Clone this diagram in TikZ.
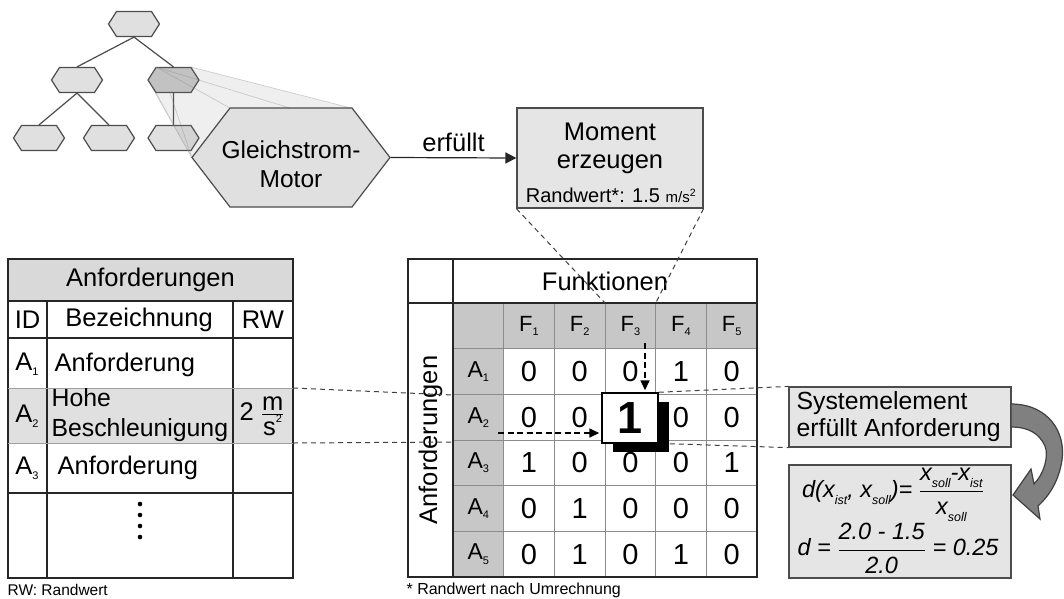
\documentclass[tikz,border=0pt]{standalone}
\usepackage{fontspec}
\setmainfont{Liberation Sans}
\usetikzlibrary{arrows.meta,shadows,calc}

\definecolor{hexfill}{gray}{0.88}
\definecolor{hexsel}{gray}{0.8}
\definecolor{hexline}{gray}{0.3}
\definecolor{boxfill}{gray}{0.9}
\definecolor{cellfill}{gray}{0.78}
\definecolor{titlefill}{gray}{0.85}
\definecolor{rowfill}{gray}{0.88}
\definecolor{rule}{gray}{0.15}
\definecolor{gridline}{gray}{0.55}
\definecolor{bendfill}{gray}{0.5}

\newcommand\fsz[2]{\fontsize{#1}{#2}\selectfont}
\newcommand\idx[1]{\raisebox{-0.18em}{\fsz{11}{11}#1}}
\newcommand\fidx[1]{\raisebox{-0.3em}{\fsz{12.5}{12.5}\itshape #1}}
\newcommand\sqr{\raisebox{0.5em}{\fsz{11}{11}2}}

\begin{document}
\begin{tikzpicture}[x=1pt,y=-1pt, font=\fsz{25.5}{30}, line width=1.2pt,
  hexp/.style n args={5}{insert path={(#1-#3,#2) -- (#1-#3+#5,#2-#4) -- (#1+#3-#5,#2-#4) -- (#1+#3,#2) -- (#1+#3-#5,#2+#4) -- (#1-#3+#5,#2+#4) -- cycle}},
  hexshape/.style={draw=hexline, fill=hexfill},
  slot/.style={inner sep=0pt, minimum width=51, minimum height=25},
  treeedge/.style={draw=hexline},
  box/.style={draw=hexline, fill=boxfill, inner sep=0pt},
  fanline/.style={draw=gray, line width=0.7pt, opacity=0.35},
  frame/.style={draw=rule, line width=1.4pt},
  grid/.style={draw=gridline, line width=0.9pt},
  num/.style={inner sep=0pt, font=\fsz{29}{29}},
  txt/.style={inner sep=0pt},
  dashline/.style={draw=black!75, line width=1pt, dash pattern=on 5pt off 4pt},
  dasharrow/.style={line width=1.6pt, dash pattern=on 6pt off 3.5pt, -{Triangle[length=10pt,width=9pt]}, shorten >=2pt},
]
\useasboundingbox (0,0) rectangle (1064,598);

% ---------- tree of system elements ----------
\node[slot] (t0) at (134,24) {};
\node[slot] (m1) at (77,80) {};
\node[slot] (m2) at (173.5,80) {};
\node[slot] (b1) at (39,138) {};
\node[slot] (b2) at (109,138) {};
\node[slot] (b3) at (173.5,138) {};
\draw[treeedge] (t0.south) -- (m1.north) (t0.south) -- (m2.north)
                (m1.south) -- (b1.north) (m1.south) -- (b2.north)
                (m2.south) -- (b3.north);
\path[hexshape, hexp={134}{24}{25.5}{12.5}{8}];
\path[hexshape, hexp={77}{80}{25.5}{12.5}{8}];
\path[hexshape, fill=hexsel, hexp={173.5}{80}{25.5}{12.5}{8}];
\path[hexshape, hexp={39}{138}{25.5}{12.5}{8}];
\path[hexshape, hexp={109}{138}{25.5}{12.5}{8}];
\path[hexshape, hexp={173.5}{138}{25.5}{12.5}{8}];

% zoom fan from the selected element to its enlarged view
\fill[gray, fill opacity=0.13] (148,80) -- (156,67) -- (191,67) -- (351,108) -- (230,108) -- (192,158) -- cycle;
\draw[fanline] (191,67) -- (351,108) (156,67) -- (230,108) (156,67) -- (290,108)
               (148,80) -- (192,158) (156,93) -- (192,158) (170,93) -- (192,158);

% enlarged element
\path[hexshape, hexp={291}{157.5}{99}{49.5}{38}];
\node[inner sep=0pt, align=center, font=\fsz{24.5}{29}] (gm-t) at (291,164) {Gleichstrom-\\Motor};
\node[inner sep=0pt, minimum width=198, minimum height=99] (gm) at (291,157.5) {};

% function box
\node[box, minimum width=186, minimum height=100] (mom) at (610,158) {};
\node[txt, anchor=base] (mom-a) at (610,140) {Moment};
\node[txt, anchor=base] (mom-b) at (610,168) {erzeugen};
\node[txt, anchor=base] (mom-c) at (611,202) {\fsz{20}{24}Randwert*: 1.5 {\fsz{15}{18}m/s\textsuperscript{2}}};

\draw[draw=rule, -{Triangle[length=11pt,width=11pt]}] (gm.east) -- (mom.west)
  node[midway, above=5pt, inner sep=0pt] (lbl) {erfüllt};

% ---------- requirements list ----------
\fill[titlefill] (8,259) rectangle (293,301);
\fill[rowfill] (8,388) rectangle (293,443);
\draw[frame] (8,259) rectangle (293,578);
\draw[frame] (8,301) -- (293,301) (8,338) -- (293,338) (8,493) -- (293,493);
\draw[frame] (47,301) -- (47,578) (233,301) -- (233,578);
\draw[draw=gray!75, line width=1pt] (8,388) -- (293,388) (8,443) -- (293,443);

\node[txt] (lt-title) at (150.5,280) {Anforderungen};
\node[txt] (lt-id) at (27.5,320) {ID};
\node[txt] (lt-bez) at (139,320) {Bezeichnung};
\node[txt] (lt-rw) at (263,320) {RW};
\node[txt] (lt-a1) at (27,364) {A\idx{1}};
\node[txt, anchor=west] (lt-b1) at (54,365) {Anforderung};
\node[txt] (lt-a2) at (27,416) {A\idx{2}};
\node[txt, anchor=west, align=left, font=\fsz{24.8}{30}] (lt-b2) at (51,415) {Hohe\\Beschleunigung};
\node[txt] (lt-v2) at (262,416) {2 $\frac{\hbox{m}}{\hbox{s\sqr}}$};
\node[txt] (lt-a3) at (27,468) {A\idx{3}};
\node[txt, anchor=west] (lt-b3) at (57,468) {Anforderung};
\foreach \k in {0,...,3} \fill[black] (140,{504+11*\k}) circle (2.3pt);
\node[txt, anchor=west, font=\fsz{15.5}{18}] (lt-note) at (7,590) {RW: Randwert};

% ---------- requirement / function matrix ----------
\fill[white] (408,259) rectangle (757,577);
\fill[cellfill] (453,303) rectangle (757,348.67);
\fill[cellfill] (453,303) rectangle (503.67,577);
\foreach \k in {1,...,5} \draw[grid] ({453+50.667*\k},303) -- ({453+50.667*\k},577);
\foreach \j in {1,...,5} \draw[grid] (453,{303+45.667*\j}) -- (757,{303+45.667*\j});
\draw[frame] (408,259) rectangle (757,577);
\draw[frame] (453,259) -- (453,577) (408,303) -- (757,303);

\node[txt] (mx-fun) at (605,281) {Funktionen};
\node[txt, rotate=90] (mx-anf) at (430.5,440) {Anforderungen};
\foreach \c in {1,...,5} {
  \node[txt, font=\fsz{22}{22}] (f\c) at ({453+50.667*(\c+0.5)},326) {F\idx{\c}};
  \node[txt, font=\fsz{23}{23}] (a\c) at (478.3,{303+45.667*(\c+0.5)}) {A\idx{\c}};
}
\foreach \r/\vals in {1/{0,0,0,1,0},2/{0,0,,0,0},3/{1,0,0,0,1},4/{0,1,0,0,0},5/{0,1,0,1,0}} {
  \foreach \v [count=\c] in \vals {
    \node[num] (v-\r-\c) at ({453+50.667*(\c+0.5)},{303+45.667*(\r+0.5)}) {\v};
  }
}

\coordinate (vtop) at (645,343);
\coordinate (hleft) at (498,433);
\node[draw=black, line width=1.5pt, fill=white, minimum width=56, minimum height=50,
      inner sep=0pt, font=\fsz{45}{45}\bfseries,
      drop shadow={shadow xshift=11pt, shadow yshift=-9pt, fill=black, opacity=1}] (one) at (630,418) {1};
\draw[dasharrow] (vtop) -- (vtop |- one.north);
\draw[dasharrow] (hleft) -- (hleft -| one.west);

\node[txt, anchor=west, font=\fsz{16}{18}] (mx-note) at (406,590) {* Randwert nach Umrechnung};

% ---------- result boxes ----------
\node[box, minimum width=222, minimum height=60] (sys) at (900,417) {};
\node[txt, anchor=west, align=left, font=\fsz{24.8}{27}] (sys-t) at (796,417) {Systemelement\\erfüllt Anforderung};

\node[box, minimum width=222, minimum height=113] (frm) at (900,521.5) {};
\node[txt, font=\fsz{23.5}{27}\itshape] (frm-l1) at (893,495)
  {d(x\fidx{ist}, x\fidx{soll})= $\displaystyle\frac{\hbox{x\fidx{soll}-x\fidx{ist}}}{\hbox{x\fidx{soll}}}$};
\node[txt, font=\fsz{23.5}{27}\itshape] (frm-l2) at (898,548)
  {d = $\displaystyle\frac{\hbox{2.0 - 1.5}}{\hbox{2.0}}$ = 0.25};

% bent arrow from the statement to the distance measure
\path[draw=black!75, fill=bendfill, line width=1.2pt]
  (1011,404) .. controls (1048,404) and (1066,432) .. (1062,460)
  .. controls (1059,480) and (1050,495) .. (1038,506)
  -- (1040,519) -- (1013,495) -- (1031,469) -- (1034,484)
  .. controls (1044,474) and (1049,456) .. (1045,446)
  .. controls (1039,433) and (1028,427) .. (1011,427) -- cycle;

% ---------- dashed guide lines ----------
\coordinate (f3l) at (605,303);
\coordinate (f3r) at (655.67,303);
\coordinate (lt-top) at (293,388);
\coordinate (lt-bot) at (293,443);
\coordinate (mx-top) at (453,395);
\coordinate (mx-bot) at (453,442);
\coordinate (one-sh) at ($(one.south east)+(11,0)$);
\draw[dashline] (mom.south west) -- (f3l);
\draw[dashline] (mom.south east) -- (f3r);
\draw[dashline] (lt-top) -- (mx-top);
\draw[dashline] (lt-bot) -- (mx-bot);
\draw[dashline] (one.north east) -- (sys.north west);
\draw[dashline] (one-sh) -- (sys.south west);
\end{tikzpicture}
\end{document}
